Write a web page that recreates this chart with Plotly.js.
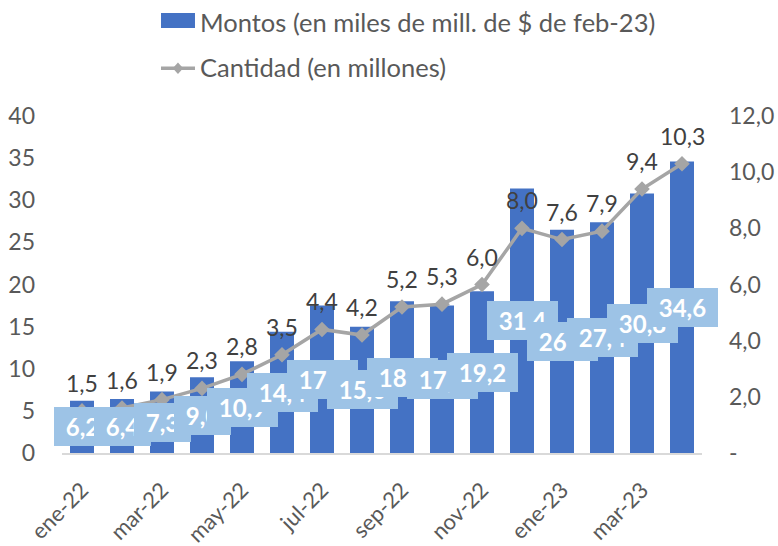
<!DOCTYPE html>
<html><head><meta charset="utf-8">
<script src="https://cdn.plot.ly/plotly-3.0.1.min.js"></script>
<style>html,body{margin:0;padding:0;background:#fff}#chart{width:778px;height:546px}</style>
</head><body><div id="chart"></div>
<script>
const months = ['ene-22','feb-22','mar-22','abr-22','may-22','jun-22','jul-22','ago-22','sep-22','oct-22','nov-22','dic-22','ene-23','feb-23','mar-23','abr-23'];
const montos = [6.2,6.4,7.3,9.0,10.9,14.4,17.5,15.0,18.0,17.5,19.2,31.4,26.5,27.4,30.8,34.6];
const cantidad = [1.5,1.6,1.9,2.3,2.8,3.5,4.4,4.2,5.2,5.3,6.0,8.0,7.6,7.9,9.4,10.3];
const leftTickVals = [0,5,10,15,20,25,30,35,40];
const rightTickVals = [0,2,4,6,8,10,12];
const rightTickText = ['-','2,0','4,0','6,0','8,0','10,0','12,0'];
const xTickVals = ['ene-22','mar-22','may-22','jul-22','sep-22','nov-22','ene-23','mar-23'];
const seriesNames = ['Montos (en miles de mill. de $ de feb-23)','Cantidad (en millones)'];

const fmt = v => v.toFixed(1).replace('.', ',');
const FONT = 'Lato, "Open Sans", sans-serif';
const BLUE = '#4472C4', GRAY = '#A5A5A5', LBLUE = '#9DC3E6';
const TXT = '#595959';

const ctx = document.createElement('canvas').getContext('2d');
ctx.font = 'bold 24px Lato';
const textW = s => ctx.measureText(s).width;

const traces = [
  {type:'bar', x:months, y:montos, name:seriesNames[0], marker:{color:BLUE}, width:0.6, yaxis:'y', hoverinfo:'skip'},
  {type:'scatter', mode:'lines+markers', x:months, y:cantidad, name:seriesNames[1], yaxis:'y2',
   line:{color:GRAY, width:3.5}, marker:{symbol:'diamond', size:12, color:GRAY}, hoverinfo:'skip'}
];

const annotations = [];
// line value labels
cantidad.forEach((v,i) => annotations.push({
  x: months[i], y: v, xref:'x', yref:'y2', text: fmt(v), showarrow:false,
  yshift: 28, font:{family:FONT, size:23, color:'#404040'}
}));
// bar value labels (boxes)
montos.forEach((v,i) => annotations.push({
  x: months[i], y: v/2, xref:'x', yref:'y', text: fmt(v), showarrow:false,
  font:{family:FONT, size:24, color:'#FFFFFF', weight:'bold'},
  width: Math.round(textW(fmt(v)) + 18), height: 33,
  bgcolor: LBLUE, borderpad: 3, borderwidth:0
}));

// custom legend
annotations.push({xref:'paper', yref:'paper', x:0.213, y:1.279, xanchor:'left', yanchor:'middle', showarrow:false,
  text:seriesNames[0], font:{family:FONT, size:25.5, color:TXT}});
annotations.push({xref:'paper', yref:'paper', x:0.213, y:1.145, xanchor:'left', yanchor:'middle', showarrow:false,
  text:seriesNames[1], font:{family:FONT, size:25.5, color:TXT}});

const shapes = [
  {type:'rect', xref:'paper', yref:'paper', x0:0.1547, x1:0.2078, y0:1.261, y1:1.3056, fillcolor:BLUE, line:{width:0}},
  {type:'line', xref:'paper', yref:'paper', x0:0.1547, x1:0.2078, y0:1.142, y1:1.142, line:{color:GRAY, width:3.5}},
  {type:'path', xref:'paper', yref:'paper',
   path:'M 0.1812 1.159 L 0.1893 1.142 L 0.1812 1.125 L 0.1731 1.142 Z', fillcolor:GRAY, line:{width:0}}
];

const layout = {
  width:778, height:546,
  margin:{l:62, r:76, t:116, b:93},
  paper_bgcolor:'#fff', plot_bgcolor:'#fff',
  showlegend:false,
  font:{family:FONT, color:TXT},
  xaxis:{type:'category', categoryorder:'array', categoryarray:months, automargin:false,
    range:[-0.5, months.length - 0.5], autorange:false,
    tickmode:'array', tickvals:xTickVals, ticktext:xTickVals, tickangle:-45,
    tickfont:{family:FONT, size:22, color:TXT},
    showline:true, linecolor:'#D9D9D9', linewidth:1.5, ticks:'', showgrid:false, zeroline:false,
    ticklabelstandoff:14},
  yaxis:{range:[0,40], autorange:false, tickmode:'array', tickvals:leftTickVals, showgrid:false, zeroline:false, automargin:false,
    showline:false, ticks:'', tickfont:{family:FONT, size:23, color:TXT}, ticklabelstandoff:26},
  yaxis2:{range:[0,12], autorange:false, overlaying:'y', side:'right', tickmode:'array', tickvals:rightTickVals, ticktext:rightTickText,
    automargin:false, showgrid:false, zeroline:false, showline:false, ticks:'',
    tickfont:{family:FONT, size:23, color:TXT}, ticklabelstandoff:26},
  annotations: annotations,
  shapes: shapes
};

Plotly.newPlot('chart', traces, layout, {displayModeBar:false, staticPlot:true});
</script></body></html>
